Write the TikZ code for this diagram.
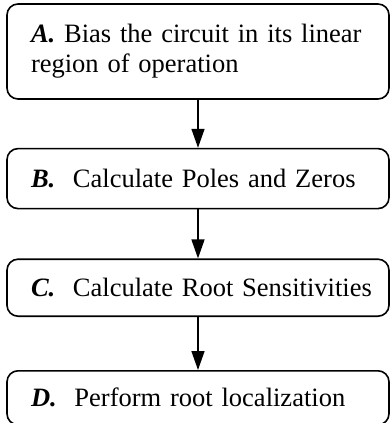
\documentclass[tikz,border=0pt]{standalone}
\usepackage{fontspec}
\setmainfont{Liberation Serif}
\usepackage{tikz}
\usetikzlibrary{arrows.meta,positioning}
\tikzset{
	x=1pt, y=1pt,
	stepbox/.style={draw, line width=1.6pt, rounded corners=11pt,
		text width=334pt, inner xsep=24pt, align=left,
		font=\fontsize{26.5pt}{30pt}\selectfont},
	flowarrow/.style={-{Triangle[width=13pt,length=19pt]}, line width=1.5pt},
}
\newcommand{\steplabel}[1]{\textbf{\textit{#1.}}}

\begin{document}
\begin{tikzpicture}
	\useasboundingbox (0,0) rectangle (390,-423);
	\node[stepbox, minimum height=95pt] (bias) at (198,-51.5)
		{\mbox{\steplabel{A} Bias the circuit in its linear}\\\mbox{region of operation}};
	\node[stepbox, minimum height=60pt, below=48pt of bias] (poles)
		{\mbox{\steplabel{B}~~Calculate Poles and Zeros}};
	\node[stepbox, minimum height=57pt, below=49pt of poles] (sens)
		{\mbox{\steplabel{C}~~Calculate Root Sensitivities}};
	\node[stepbox, minimum height=54pt, below=53pt of sens] (local)
		{\mbox{\steplabel{D}~~Perform root localization}};
	
	\draw[flowarrow] (bias) -- (poles);
	\draw[flowarrow] (poles) -- (sens);
	\draw[flowarrow] (sens) -- (local);
\end{tikzpicture}
\end{document}
